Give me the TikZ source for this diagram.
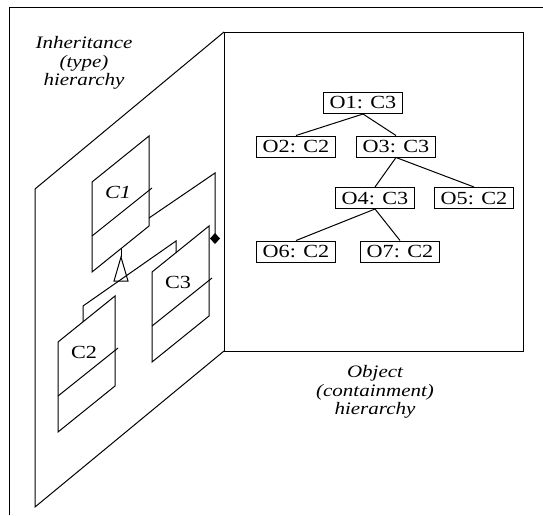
\documentclass[tikz,border=0pt]{standalone}
\usepackage{fontspec}
\setmainfont{Liberation Serif}[FakeStretch=1.2]
\usetikzlibrary{arrows.meta}

\begin{document}
\begin{tikzpicture}[x=1pt,y=-1pt,line width=1pt,
    objbox/.style={draw, minimum width=79pt, minimum height=21pt, inner sep=0pt,
        font=\fontsize{18.5}{18.5}\selectfont},
    clslabel/.style={inner sep=0pt, font=\fontsize{18.5}{18.5}\selectfont},
    caption/.style={align=center, inner sep=0pt, font=\fontsize{17.5}{18.5}\selectfont\itshape}]

    \useasboundingbox (0,0) rectangle (543,515);

    % Define coordinates
    \coordinate (P1) at (224,32);
    \coordinate (P2) at (523,351);
    \coordinate (P3) at (224,351);
    \coordinate (Q1) at (35,189);
    \coordinate (Q2) at (35,507);

    % Frame
    \draw (9,515) -- (9,7) -- (543,7);

    % Inheritance plane and object plane
    \draw (P1) -- (Q1) -- (Q2) -- (P3);
    \draw (P1) rectangle (P2);

    % Class boxes on the slanted plane
    \foreach \cls/\px/\py/\lbl in {C1/92/182/\textit{C1}, C2/58/342/C2, C3/152/272/C3} {
        \draw (\px,\py) -- ++(57,-46) -- ++(0,90) -- ++(-57,46) -- cycle;
        \draw (\px,\py+54) -- ++(60,-48);
        \node[clslabel] (\cls) at (\px+26,\py+10) {\lbl};
    }

    % Generalization (C2, C3 from C1)
    \coordinate (C1b) at (121,248);
    \coordinate (apex) at (121,257);
    \coordinate (baseL) at (114,281);
    \coordinate (baseR) at (128,281);
    \coordinate (C2t) at (83,322);
    \coordinate (C2k) at (83,306);
    \coordinate (C3k) at (176,241);
    \coordinate (C3t) at (176,253);
    \draw (C1b) -- (apex);
    \draw (apex) -- (baseL) -- (baseR) -- cycle;
    \draw (C2t) -- (C2k) -- (C3k) -- (C3t);

    % Composition
    \coordinate (C1r) at (149,218);
    \coordinate (bend) at (215,173);
    \coordinate (owner) at (215,244);
    \draw[-{Diamond[length=11pt,width=10pt]}] (C1r) -- (bend) -- (owner);

    % Object tree
    \node[objbox] (O1) at (363,103) {O1: C3};
    \node[objbox] (O2) at (296,146.5) {O2: C2};
    \node[objbox] (O3) at (396,146.5) {O3: C3};
    \node[objbox] (O4) at (375,198) {O4: C3};
    \node[objbox] (O5) at (474,198) {O5: C2};
    \node[objbox] (O6) at (296,251.5) {O6: C2};
    \node[objbox] (O7) at (400,251.5) {O7: C2};
    \foreach \a/\b in {O1/O2, O1/O3, O3/O4, O3/O5, O4/O6, O4/O7}
        \draw (\a.south) -- (\b.north);

    % Captions
    \node[caption] (inh) at (84,63) {Inheritance\\(type)\\hierarchy};
    \node[caption] (obj) at (375,392) {Object\\(containment)\\hierarchy};
\end{tikzpicture}
\end{document}
